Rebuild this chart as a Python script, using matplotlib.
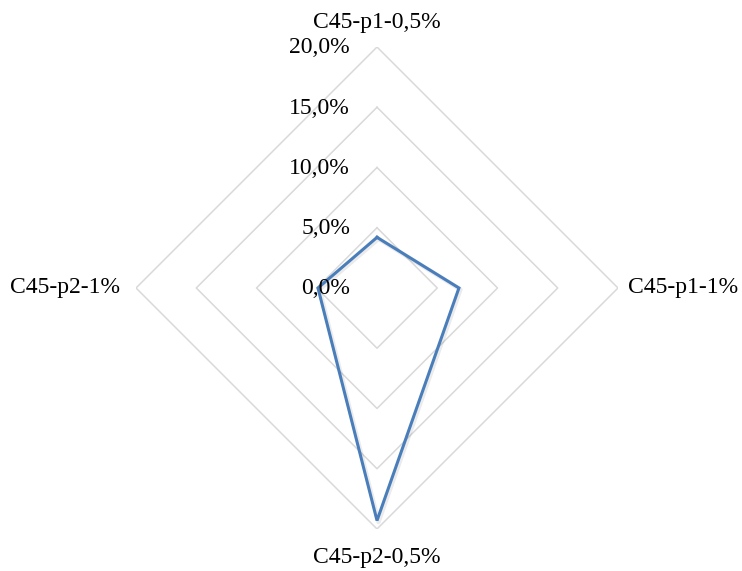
import numpy as np
import matplotlib
matplotlib.use("Agg")
import matplotlib.pyplot as plt

categories = ["C45-p1-0,5%", "C45-p1-1%", "C45-p2-0,5%", "C45-p2-1%"]
values = [4.2, 6.8, 19.3, 4.9]
rings = [0, 5, 10, 15, 20]
ring_labels = ["0,0%", "5,0%", "10,0%", "15,0%", "20,0%"]

plt.rcParams["font.family"] = ["Liberation Serif", "DejaVu Serif"]

fig = plt.figure(figsize=(7.42, 5.71), dpi=100)
ax = fig.add_axes([0.1833, 0.0736, 0.6496, 0.8441], projection="polar")
ax.set_theta_zero_location("N")
ax.set_theta_direction(-1)
ax.set_ylim(0, 20)
ax.grid(False)
ax.spines["polar"].set_visible(False)
ax.set_xticks([])
ax.set_yticks([])
ax.patch.set_alpha(0)

n = len(categories)
angles = np.arange(n) * 2 * np.pi / n
closed = np.append(angles, angles[0])

# concentric diamond gridlines
grid_color = "#D9D9D9"
for r in rings[1:]:
    ax.plot(closed, [r] * (n + 1), color=grid_color, lw=1.1, zorder=1)

# data series with a soft drop shadow
vals = np.append(values, values[0])
ax.plot(closed, vals, color="#000000", alpha=0.08, lw=3.2, zorder=2,
        transform=ax.transData + matplotlib.transforms.ScaledTranslation(
            1.5 / 100, -1.5 / 100, fig.dpi_scale_trans))
ax.plot(closed, vals, color="#4A7EBB", lw=2.2, zorder=3,
        solid_joinstyle="miter")

for r, lab in zip(rings, ring_labels):
    ax.annotate(lab, xy=(0, r), xytext=(-27, -1), textcoords="offset pixels",
                ha="right", va="center", fontsize=17, color="#000000")

offsets = [(0, 24, "center", "center"), (10, 0, "left", "center"),
           (0, -29, "center", "center"), (-16, 0, "right", "center")]
for a, lab, (dx, dy, ha, va) in zip(angles, categories, offsets):
    ax.annotate(lab, xy=(a, rings[-1]), xytext=(dx, dy), textcoords="offset pixels",
                ha=ha, va=va, fontsize=17, color="#000000")

fig.savefig("out.png", dpi=100, facecolor="white")
